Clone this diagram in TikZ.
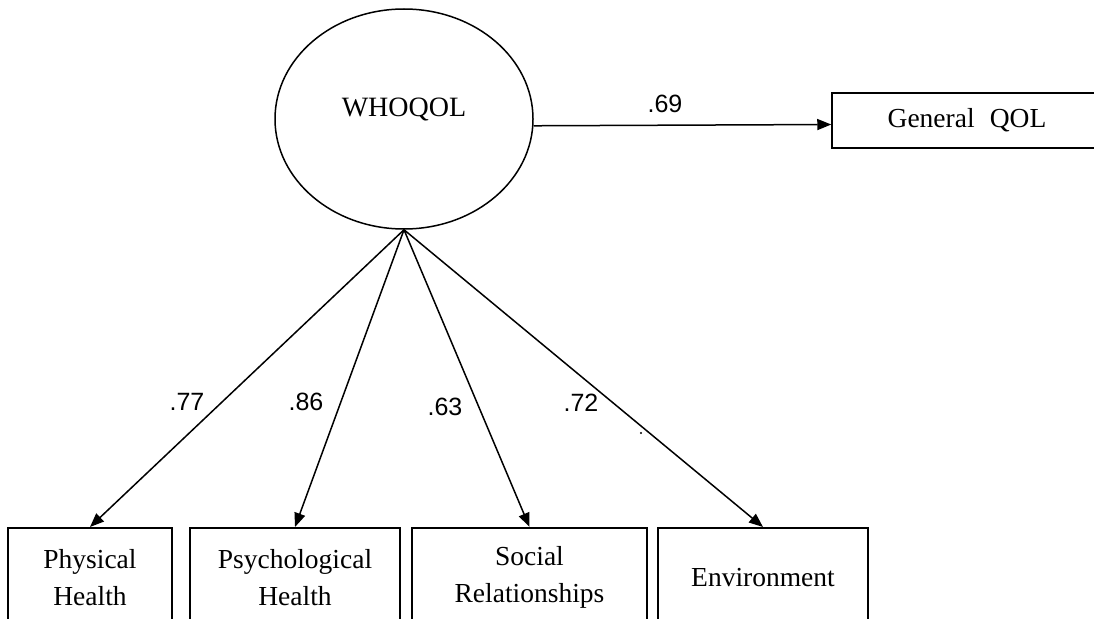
\documentclass[tikz,border=0pt]{standalone}
\usepackage{fontspec}
\setmainfont{Liberation Serif}
\newfontfamily\numfont{Liberation Sans}
\usetikzlibrary{arrows.meta,shapes.geometric}

\tikzset{
  latent/.style={draw, ellipse, line width=1.5pt, inner sep=0pt,
    minimum width=258pt, minimum height=220pt},
  obsbox/.style={draw, rectangle, line width=1.5pt, inner sep=0pt,
    align=center, font=\fontsize{27.5}{37}\selectfont},
  path/.style={line width=1.5pt, -{Triangle[length=14pt,width=11pt]}},
  coef/.style={font=\numfont\fontsize{25}{30}\selectfont, inner sep=0pt},
  caption/.style={font=\fontsize{28}{37}\selectfont, inner sep=0pt}
}

\begin{document}
\begin{tikzpicture}[x=1pt, y=-1pt]
  \clip (0,0) rectangle (1094,618);
  \fill[white] (0,0) rectangle (1094,618);

  % latent factor
  \node[latent] (wq) at (404,119) {};
  \node[caption] (wqtext) at (404,109) {WHOQOL};

  % criterion
  \node[obsbox, minimum width=270pt, minimum height=55pt] (gq) at (967,120.5)
    {General\hspace{0.55em}QOL};

  % domain indicators (bottoms run off the page)
  \node[obsbox, anchor=north, minimum width=164pt, minimum height=100pt] (ph) at (90,527)
    {Physical\\Health};
  \node[obsbox, anchor=north, minimum width=210pt, minimum height=100pt] (ps) at (295,527)
    {Psychological\\Health};
  \node[obsbox, anchor=north, minimum width=235pt, minimum height=100pt] (sr) at (529.5,527)
    {Social\\Relationships};
  \node[obsbox, anchor=north, minimum width=210pt, minimum height=100pt] (en) at (763,527)
    {Environment};

  % paths
  \draw[path] (wq.-3) -- ([yshift=-4pt]gq.west);
  \draw[path] (wq.south) -- (ph.north);
  \draw[path] (wq.south) -- (ps.north);
  \draw[path] (wq.south) -- (sr.north);
  \draw[path] (wq.south) -- (en.north);

  % loadings
  \node[coef] (l69) at (665,104) {.69};
  \node[coef] (l77) at (187,402) {.77};
  \node[coef] (l86) at (306,402) {.86};
  \node[coef] (l63) at (445,407) {.63};
  \node[coef] (l72) at (581,403) {.72};

  % stray mark
  \fill (641,433) circle (1.2pt);
\end{tikzpicture}
\end{document}
